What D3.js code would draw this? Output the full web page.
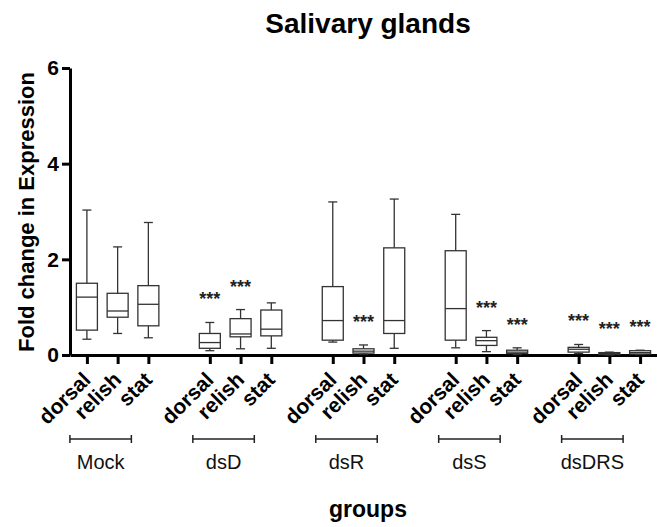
<!DOCTYPE html>
<meta charset="utf-8">
<style>
    body { margin: 0; background: #fff; }
    svg { display: block; font-family: Arial, "Liberation Sans", sans-serif; }
</style>
<body>
    <div id="chart"></div>

    <script src="https://d3js.org/d3.v7.min.js"></script>

    <script>
        // groups and genes, boxes are laid out group by group
        var groups = ['Mock', 'dsD', 'dsR', 'dsS', 'dsDRS']
        var genes = ['dorsal', 'relish', 'stat']

        // box stats, one value per box (Mock dorsal .. dsDRS stat)
        var whiskerMin = [0.33, 0.45, 0.36, 0.09, 0.13, 0.14, 0.27, 0.02, 0.14, 0.15, 0.07, 0.01, 0.03, 0.00, 0.01]
        var q1 = [0.52, 0.79, 0.61, 0.14, 0.38, 0.40, 0.31, 0.04, 0.45, 0.31, 0.20, 0.03, 0.06, 0.01, 0.02]
        var median = [1.21, 0.92, 1.06, 0.26, 0.44, 0.54, 0.72, 0.08, 0.72, 0.97, 0.30, 0.06, 0.12, 0.03, 0.05]
        var q3 = [1.50, 1.29, 1.45, 0.45, 0.76, 0.94, 1.43, 0.13, 2.24, 2.18, 0.37, 0.10, 0.16, 0.05, 0.09]
        var whiskerMax = [3.03, 2.26, 2.77, 0.68, 0.95, 1.09, 3.20, 0.21, 3.26, 2.94, 0.51, 0.15, 0.22, 0.06, 0.10]
        // *** marks
        var significant = [0, 0, 0, 1, 1, 0, 0, 1, 0, 0, 1, 1, 1, 1, 1]

        var yTicks = [0, 2, 4, 6]

        var width = 657
        var height = 527

        // each group takes 3 slots plus one empty slot between groups
        var boxes = []
        groups.forEach(function (g, gi) {
            genes.forEach(function (gene, ji) {
                var i = gi * 3 + ji
                boxes.push({
                    group: g, gene: gene, slot: gi * 4 + ji,
                    min: whiskerMin[i], q1: q1[i], med: median[i], q3: q3[i], max: whiskerMax[i],
                    sig: significant[i]
                })
            })
        })

        var x = d3.scaleLinear()
            .domain([-0.55, 18.55])
            .range([70, 657])
        var y = d3.scaleLinear()
            .domain([0, 6])
            .range([355, 68])

        var svg = d3.select('#chart')
            .append('svg')
            .attr('width', width)
            .attr('height', height)

        // title
        svg.append('text')
            .attr('x', 368)
            .attr('y', 33)
            .attr('text-anchor', 'middle')
            .style('font-size', '28px')
            .style('font-weight', 'bold')
            .text('Salivary glands')

        // y axis
        var gy = svg.append('g')
            .attr('transform', 'translate(70,0)')
            .call(d3.axisLeft(y).tickValues(yTicks).tickFormat(d3.format('d'))
                .tickSize(8).tickSizeOuter(0).tickPadding(3))
        gy.select('.domain').style('stroke', '#000').style('stroke-width', 3)
        gy.selectAll('.tick line').style('stroke', '#000').style('stroke-width', 3)
        gy.selectAll('.tick text')
            .style('font-size', '21px')
            .style('font-weight', 'bold')
            .style('font-family', 'Arial, "Liberation Sans", sans-serif')
            .style('fill', '#000')

        svg.append('text')
            .attr('transform', 'translate(34,212) rotate(-90)')
            .attr('text-anchor', 'middle')
            .style('font-size', '22px')
            .style('font-weight', 'bold')
            .text('Fold change in Expression')

        // x axis
        var gx = svg.append('g')
            .attr('transform', 'translate(0,355)')
            .call(d3.axisBottom(x).tickValues(boxes.map(function (d) { return d.slot }))
                .tickFormat('').tickSize(9).tickSizeOuter(0))
        gx.select('.domain').style('stroke', '#000').style('stroke-width', 3)
        gx.selectAll('.tick line').style('stroke', '#000').style('stroke-width', 3)

        // gene labels
        svg.selectAll('.gene')
            .data(boxes)
            .enter()
            .append('text')
            .attr('class', 'gene')
            .attr('transform', function (d) { return 'translate(' + (x(d.slot) + 5) + ',381) rotate(-45)' })
            .attr('text-anchor', 'end')
            .style('font-size', '21px')
            .style('font-weight', 'bold')
            .text(function (d) { return d.gene })

        // group brackets and names
        var bracket = svg.selectAll('.bracket')
            .data(groups)
            .enter()
            .append('g')
            .attr('class', 'bracket')
            .attr('transform', function (d, i) { return 'translate(' + (x(i * 4 + 1) - 17) + ',0)' })
        var half = (x(2) - x(0)) / 2
        bracket.append('line')
            .attr('x1', -half).attr('x2', half)
            .attr('y1', 439).attr('y2', 439)
            .style('stroke', '#222').style('stroke-width', 1.5)
        bracket.append('line')
            .attr('x1', -half).attr('x2', -half)
            .attr('y1', 435).attr('y2', 443)
            .style('stroke', '#222').style('stroke-width', 1.5)
        bracket.append('line')
            .attr('x1', half).attr('x2', half)
            .attr('y1', 435).attr('y2', 443)
            .style('stroke', '#222').style('stroke-width', 1.5)
        bracket.append('text')
            .attr('y', 469)
            .attr('text-anchor', 'middle')
            .style('font-size', '20px')
            .style('fill', '#111')
            .text(function (d) { return d })

        svg.append('text')
            .attr('x', 368)
            .attr('y', 517)
            .attr('text-anchor', 'middle')
            .style('font-size', '23px')
            .style('font-weight', 'bold')
            .text('groups')

        // boxes
        var bw = 21
        var cap = 9
        var box = svg.selectAll('.box')
            .data(boxes)
            .enter()
            .append('g')
            .attr('class', 'box')
            .attr('transform', function (d) { return 'translate(' + x(d.slot) + ',0)' })
            .style('stroke', '#333')
            .style('stroke-width', 1.3)
            .style('fill', 'none')

        box.append('line')
            .attr('y1', function (d) { return y(d.max) })
            .attr('y2', function (d) { return y(d.q3) })
        box.append('line')
            .attr('y1', function (d) { return y(d.q1) })
            .attr('y2', function (d) { return y(d.min) })
        box.append('line')
            .attr('x1', -cap / 2).attr('x2', cap / 2)
            .attr('y1', function (d) { return y(d.max) })
            .attr('y2', function (d) { return y(d.max) })
        box.append('line')
            .attr('x1', -cap / 2).attr('x2', cap / 2)
            .attr('y1', function (d) { return y(d.min) })
            .attr('y2', function (d) { return y(d.min) })
        box.append('rect')
            .attr('x', -bw / 2)
            .attr('width', bw)
            .attr('y', function (d) { return y(d.q3) })
            .attr('height', function (d) { return y(d.q1) - y(d.q3) })
            .style('fill', '#fff')
        box.append('line')
            .attr('x1', -bw / 2).attr('x2', bw / 2)
            .attr('y1', function (d) { return y(d.med) })
            .attr('y2', function (d) { return y(d.med) })

        // significance stars
        svg.selectAll('.star')
            .data(boxes.filter(function (d) { return d.sig }))
            .enter()
            .append('text')
            .attr('class', 'star')
            .attr('x', function (d) { return x(d.slot) })
            .attr('y', function (d) { return y(d.max) - 17 })
            .attr('text-anchor', 'middle')
            .style('font-size', '18px')
            .style('font-weight', 'bold')
            .style('fill', '#222')
            .text('***')
    </script>

</body>
